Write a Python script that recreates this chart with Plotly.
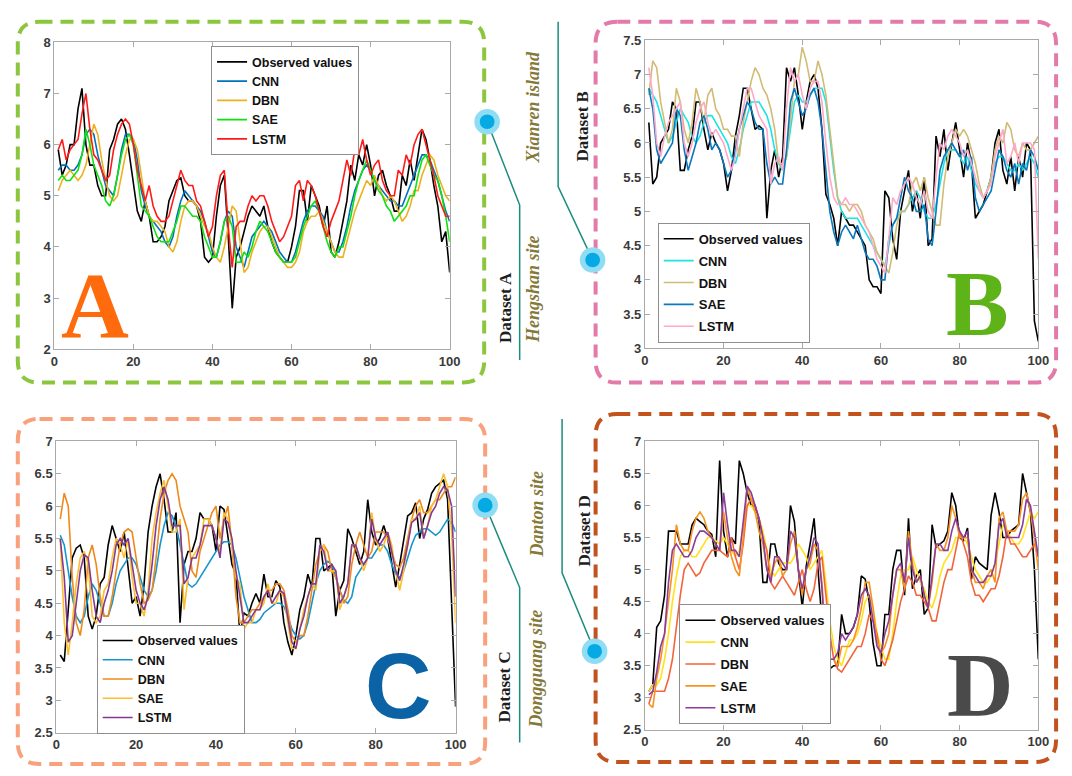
import plotly.graph_objects as go

W, H = 1072, 776
X = list(range(1, 101))
SERIES = ["Observed values", "CNN", "DBN", "SAE", "LSTM"]

# ---------------- Dataset A ----------------
A_obs = [5.9, 5.4, 5.6, 6.0, 6.0, 6.7, 7.1, 6.0, 5.6, 5.6,
         5.2, 5.0, 5.0, 5.9, 6.1, 6.4, 6.5, 6.3, 5.8, 5.2,
         4.7, 4.5, 4.9, 4.6, 4.1, 4.1, 4.2, 4.4, 4.9, 5.1,
         5.3, 5.35, 5.0, 4.9, 4.9, 4.8, 4.5, 3.8, 3.7, 3.8,
         4.6, 5.2, 5.4, 4.2, 2.8, 3.8, 4.0, 4.3, 4.6, 4.8,
         4.7, 4.6, 4.8, 4.4, 4.1, 3.9, 3.8, 3.7, 3.7, 4.0,
         4.4, 5.1, 5.1, 4.5, 5.2, 5.0, 4.8, 4.4, 4.8, 3.9,
         3.8, 4.1, 4.5, 4.9, 5.6, 5.3, 5.8, 5.6, 6.0, 5.6,
         5.0, 5.4, 5.5, 5.2, 5.0, 4.7, 4.7, 5.4, 5.2, 5.7,
         5.3, 5.8, 6.3, 6.1, 5.7, 5.2, 4.8, 4.1, 4.3, 3.5]
A_cnn = [5.5, 5.6, 5.6, 5.5, 5.5, 5.6, 5.8, 6.2, 6.3, 6.2,
         5.8, 5.5, 5.2, 5.1, 5.0, 5.4, 5.9, 6.2, 6.2, 6.1,
         5.7, 5.1, 4.8, 4.6, 4.5, 4.4, 4.3, 4.1, 4.0, 4.2,
         4.6, 4.9, 5.1, 5.0, 4.9, 4.8, 4.7, 4.5, 4.2, 3.9,
         3.8, 4.1, 4.5, 4.7, 4.6, 4.0, 3.8, 3.6, 3.9, 4.2,
         4.3, 4.4, 4.5, 4.4, 4.3, 4.1, 3.9, 3.8, 3.7, 3.7,
         3.9, 4.2, 4.5, 4.7, 4.8, 4.8, 4.7, 4.6, 4.3, 4.1,
         3.9, 3.9, 4.1, 4.4, 4.8, 5.1, 5.3, 5.5, 5.6, 5.5,
         5.3, 5.2, 5.1, 5.0, 4.9, 4.9, 4.8, 4.8, 5.0, 5.2,
         5.4, 5.6, 5.8, 5.8, 5.7, 5.5, 5.3, 5.0, 4.7, 4.5]
A_dbn = [5.1, 5.3, 5.4, 5.5, 5.4, 5.3, 5.4, 5.6, 6.0, 6.4,
         6.2, 5.7, 5.3, 5.0, 4.9, 5.0, 5.4, 5.8, 6.1, 6.1,
         5.9, 5.4, 4.9, 4.6, 4.5, 4.5, 4.4, 4.3, 4.0, 3.9,
         4.1, 4.5, 4.8, 4.9, 4.9, 4.8, 4.6, 4.4, 4.3, 4.0,
         3.8, 3.7, 4.0, 4.4, 4.8, 4.7, 4.1, 3.5, 3.6, 3.9,
         4.1, 4.3, 4.4, 4.4, 4.2, 4.0, 3.8, 3.7, 3.6, 3.6,
         3.7, 3.9, 4.3, 4.5, 4.6, 4.6, 4.7, 4.5, 4.3, 4.1,
         3.9, 3.8, 3.8, 4.1, 4.4, 4.7, 4.9, 5.1, 5.3, 5.2,
         5.4, 5.2, 5.0, 4.9, 5.0, 4.9, 4.7, 4.5, 4.6, 4.8,
         5.1, 5.1, 5.4, 5.6, 5.8, 5.7, 5.4, 5.2, 5.0, 4.9]
A_sae = [5.3, 5.4, 5.3, 5.3, 5.4, 5.5, 5.8, 6.3, 6.0, 5.6,
         5.4, 5.2, 4.9, 4.8, 5.0, 5.4, 5.8, 6.1, 6.2, 6.0,
         5.4, 4.8, 4.7, 4.6, 4.4, 4.2, 4.1, 4.1, 4.1, 4.3,
         4.5, 4.8, 4.8, 4.7, 4.6, 4.6, 4.5, 4.2, 4.0, 3.8,
         3.8, 4.1, 4.5, 4.6, 4.4, 3.7, 3.7, 3.9, 3.8, 4.0,
         4.3, 4.5, 4.4, 4.3, 4.1, 3.9, 3.8, 3.7, 3.7, 3.7,
         3.8, 4.1, 4.4, 4.6, 4.8, 4.9, 4.7, 4.4, 4.1, 3.9,
         3.8, 4.0, 4.0, 4.3, 4.6, 5.0, 5.3, 5.5, 5.7, 5.5,
         5.3, 5.1, 5.0, 4.8, 4.7, 4.5, 4.6, 4.7, 4.8, 5.0,
         5.0, 5.4, 5.7, 5.8, 5.6, 5.4, 5.3, 5.0, 4.6, 4.1]
A_lstm = [5.9, 6.1, 5.7, 5.9, 6.0, 6.1, 6.6, 7.0, 6.3, 5.8,
          5.7, 5.5, 5.3, 5.4, 5.9, 6.2, 6.4, 6.5, 6.4, 6.0,
          5.5, 5.2, 4.9, 5.2, 4.8, 4.6, 4.5, 4.5, 4.6, 4.9,
          5.2, 5.5, 5.3, 5.2, 5.2, 4.9, 4.8, 4.5, 4.2, 4.4,
          5.0, 5.4, 5.5, 4.4, 3.6, 4.4, 4.5, 4.5, 4.8, 5.0,
          4.9, 5.0, 5.0, 4.8, 4.5, 4.3, 4.1, 4.2, 4.4, 4.6,
          5.2, 5.3, 4.9, 5.3, 5.2, 5.0, 4.7, 4.4, 4.2, 4.5,
          4.7, 4.9, 5.3, 5.7, 5.4, 5.9, 5.8, 6.1, 5.7, 5.4,
          5.6, 5.7, 5.3, 5.1, 5.0, 5.0, 5.5, 5.4, 5.8, 5.6,
          6.0, 6.2, 6.3, 6.0, 5.7, 5.4, 5.0, 4.8, 4.6, 4.6]

# ---------------- Dataset B ----------------
B_obs = [6.3, 5.4, 5.5, 6.0, 6.1, 6.2, 6.6, 6.5, 5.6, 5.6,
         5.9, 6.1, 6.6, 6.6, 6.2, 5.9, 6.15, 6.0, 5.9, 5.7,
         5.3, 5.6, 6.1, 6.4, 6.8, 6.8, 6.5, 6.2, 6.25, 6.2,
         4.9, 5.6, 5.9, 5.5, 5.8, 7.1, 6.9, 7.1, 6.7, 6.2,
         6.6, 6.9, 7.0, 6.8, 6.2, 5.25, 5.1, 4.9, 4.5, 5.0,
         4.9, 4.8, 4.8, 4.7, 4.6, 4.5, 4.0, 3.9, 3.9, 3.8,
         5.3, 5.2, 4.6, 4.3, 5.0, 5.3, 5.6, 5.0, 5.3, 4.9,
         5.5, 4.5, 4.6, 6.1, 5.8, 6.2, 5.6, 6.0, 6.3, 5.9,
         5.5, 6.0, 5.7, 4.9, 5.0, 5.1, 5.3, 5.5, 6.0, 6.2,
         5.6, 5.4, 5.8, 5.3, 5.8, 5.5, 6.0, 5.9, 3.4, 3.1]
B_cnn = [6.8, 6.7, 6.6, 6.4, 6.2, 6.0, 6.1, 6.3, 6.5, 6.4,
         6.3, 6.1, 6.0, 6.1, 6.3, 6.4, 6.4, 6.3, 6.2, 6.1,
         6.0, 5.8, 5.7, 5.9, 6.2, 6.4, 6.6, 6.6, 6.6, 6.5,
         6.4, 6.2, 5.9, 5.7, 5.6, 5.8, 6.2, 6.6, 6.7, 6.6,
         6.6, 6.7, 6.8, 6.8, 6.8, 6.6, 6.1, 5.6, 5.2, 5.0,
         4.9, 4.9, 4.9, 4.9, 4.8, 4.7, 4.6, 4.5, 4.4, 4.3,
         4.2, 4.5, 4.8, 4.9, 5.0, 5.0, 5.1, 5.2, 5.3, 5.2,
         5.0, 4.9, 4.9, 5.1, 5.4, 5.7, 5.9, 5.9, 5.9, 5.8,
         5.7, 5.8, 5.6, 5.4, 5.3, 5.2, 5.3, 5.5, 5.7, 5.8,
         5.8, 5.7, 5.6, 5.6, 5.7, 5.6, 5.7, 5.8, 5.7, 5.5]
B_dbn = [6.7, 7.2, 7.1, 6.6, 6.3, 6.0, 6.2, 6.8, 6.6, 6.2,
         6.0, 6.3, 6.8, 6.6, 6.3, 6.7, 6.8, 6.5, 6.4, 6.2,
         6.2, 6.1, 6.1, 5.8, 6.3, 6.6, 6.9, 7.1, 7.0, 6.8,
         6.7, 6.5, 6.2, 5.7, 5.7, 5.8, 6.4, 6.9, 7.0, 7.4,
         7.2, 6.9, 6.9, 7.2, 7.0, 6.7, 6.2, 5.7, 5.2, 5.1,
         5.1, 5.0, 5.1, 5.1, 5.0, 4.8, 4.7, 4.6, 4.4, 4.3,
         4.2, 4.1, 4.4, 4.8, 5.0, 5.0, 5.1, 5.4, 5.5, 5.3,
         5.5, 5.2, 5.0, 4.8, 4.8, 5.4, 5.8, 6.0, 6.2, 6.1,
         6.2, 6.1, 5.9, 5.7, 5.4, 5.2, 5.3, 5.5, 5.9, 6.1,
         6.0, 6.3, 6.2, 5.9, 5.8, 6.0, 5.9, 5.9, 6.0, 6.1]
B_sae = [6.8, 6.5, 5.9, 5.7, 5.8, 5.9, 6.0, 6.5, 6.4, 5.9,
         5.6, 5.8, 6.0, 6.3, 6.4, 6.2, 5.9, 6.0, 5.9, 5.7,
         5.5, 5.6, 5.9, 6.2, 6.4, 6.6, 6.5, 6.3, 6.2, 6.2,
         5.7, 5.4, 5.5, 5.4, 5.4, 5.9, 6.6, 6.8, 6.6, 6.4,
         6.5, 6.7, 6.8, 6.6, 6.2, 5.6, 5.0, 4.7, 4.5, 4.7,
         4.8, 4.7, 4.6, 4.8, 4.6, 4.4, 4.3, 4.3, 4.2, 4.0,
         4.0, 4.6, 4.8, 4.9, 5.2, 5.5, 5.3, 5.2, 5.0, 5.0,
         5.1, 4.6, 4.5, 5.0, 5.6, 5.8, 5.9, 6.0, 5.9, 5.8,
         5.9, 5.6, 5.8, 5.2, 5.0, 5.1, 5.2, 5.3, 5.6, 5.9,
         5.8, 5.6, 5.5, 5.7, 5.4, 5.7, 5.6, 5.9, 5.8, 5.6]
B_lstm = [7.1, 6.7, 6.0, 5.8, 6.1, 6.3, 6.4, 6.5, 6.6, 6.0,
          5.8, 6.0, 6.3, 6.5, 6.6, 6.3, 6.1, 6.2, 6.1, 6.0,
          5.8, 5.6, 5.8, 6.2, 6.5, 6.8, 6.8, 6.6, 6.4, 6.3,
          6.2, 5.4, 5.7, 5.8, 5.6, 6.5, 7.1, 6.9, 7.0, 6.7,
          6.5, 6.8, 6.9, 6.9, 6.6, 6.0, 5.5, 5.2, 5.1, 5.1,
          5.2, 5.1, 5.1, 5.0, 4.9, 4.8, 4.7, 4.5, 4.3, 4.2,
          4.1, 4.6, 5.2, 5.1, 5.3, 5.4, 5.5, 5.4, 5.2, 5.1,
          5.3, 5.0, 4.9, 5.5, 6.0, 5.9, 6.1, 6.2, 6.1, 6.0,
          5.8, 5.9, 5.7, 5.5, 5.3, 5.2, 5.3, 5.4, 5.8, 6.0,
          6.2, 5.7, 5.8, 6.0, 5.7, 6.0, 6.0, 6.0, 5.9, 4.3]

# ---------------- Dataset C ----------------
C_obs = [3.7, 3.6, 4.4, 5.2, 5.35, 5.4, 5.2, 4.3, 4.1, 4.3,
         4.8, 4.9, 5.4, 5.7, 5.5, 5.3, 5.6, 5.0, 4.5, 4.6,
         4.3, 4.8, 5.6, 6.0, 6.3, 6.5, 6.1, 5.6, 5.6, 5.9,
         4.2, 5.1, 5.3, 5.3, 5.5, 5.9, 5.8, 5.8, 5.7, 5.3,
         6.0, 5.95, 5.5, 5.1, 4.95, 4.0, 4.35, 4.3, 4.5, 4.65,
         4.5, 4.95, 4.6, 4.6, 4.85, 4.75, 4.2, 3.9, 3.7, 4.0,
         4.4, 4.6, 4.95, 4.75, 5.5, 5.5, 5.0, 5.05, 5.1, 4.3,
         4.7, 4.85, 5.65, 5.5, 5.3, 5.1, 5.3, 6.1, 5.6, 5.4,
         5.5, 5.7, 5.5, 5.1, 4.75, 5.1, 5.45, 5.85, 5.9, 6.05,
         5.5, 5.8, 5.95, 6.2, 6.3, 6.35, 6.4, 6.1, 4.5, 2.9]
C_cnn = [5.55, 5.4, 5.0, 4.6, 4.3, 4.2, 4.3, 4.6, 4.8, 4.7,
         4.5, 4.3, 4.3, 4.5, 4.8, 5.0, 5.1, 5.2, 5.2, 5.1,
         4.9, 4.7, 4.6, 4.7, 5.0, 5.4, 5.7, 5.9, 5.85, 5.7,
         5.4, 5.1, 4.8, 4.75, 4.8, 4.9, 5.0, 5.1, 5.2, 5.3,
         5.4, 5.45, 5.45, 5.4, 5.2, 4.9, 4.6, 4.4, 4.2, 4.2,
         4.25, 4.35, 4.4, 4.45, 4.5, 4.5, 4.45, 4.3, 4.1, 4.0,
         3.95, 4.0, 4.2, 4.5, 4.8, 5.0, 5.1, 5.15, 5.1, 4.9,
         4.7, 4.55, 4.5, 4.6, 4.9, 5.0, 5.1, 5.2, 5.2, 5.3,
         5.4, 5.4, 5.3, 5.1, 4.95, 4.9, 5.0, 5.2, 5.4, 5.55,
         5.6, 5.65, 5.65, 5.6, 5.55, 5.6, 5.7, 5.8, 5.75, 5.6]
C_dbn = [5.8, 6.2, 6.0, 4.9, 4.2, 4.0, 4.4, 5.2, 5.4, 5.1,
         4.6, 4.3, 4.3, 4.6, 5.0, 5.4, 5.6, 5.65, 5.6, 5.2,
         4.8, 4.5, 4.55, 4.7, 5.2, 5.8, 6.2, 6.4, 6.5, 6.4,
         6.0, 5.8, 5.6, 5.0, 4.9, 5.3, 5.5, 5.7, 5.9, 6.0,
         5.5, 5.8, 6.0, 5.4, 4.6, 4.2, 4.2, 4.3, 4.4, 4.4,
         4.5, 4.6, 4.7, 4.7, 4.8, 4.8, 4.7, 4.4, 4.0, 3.9,
         4.0, 4.0, 4.3, 4.7, 5.1, 5.3, 5.4, 5.3, 5.0, 4.9,
         4.7, 4.5, 4.6, 5.1, 5.4, 5.6, 5.4, 5.2, 5.3, 5.6,
         5.6, 5.6, 5.5, 5.3, 5.1, 5.05, 5.2, 5.5, 5.8, 6.0,
         6.1, 5.9, 5.9, 6.0, 6.1, 6.1, 6.2, 6.3, 6.3, 6.45]
C_sae = [5.5, 4.2, 3.7, 4.2, 4.8, 5.2, 5.3, 5.1, 4.3, 4.2,
         4.3, 4.7, 4.8, 5.2, 5.5, 5.4, 5.2, 5.5, 4.9, 4.5,
         4.5, 4.3, 4.7, 5.5, 5.9, 6.2, 6.4, 6.0, 5.6, 5.6,
         5.8, 4.4, 4.9, 5.2, 5.3, 5.4, 5.8, 5.8, 5.7, 5.5,
         5.3, 5.9, 5.8, 5.4, 4.9, 4.8, 4.1, 4.2, 4.2, 4.4,
         4.4, 4.5, 4.8, 4.5, 4.5, 4.7, 4.6, 4.2, 3.8, 3.8,
         4.1, 4.4, 4.6, 4.8, 4.7, 5.3, 5.4, 5.0, 5.0, 5.0,
         4.4, 4.6, 4.8, 5.4, 5.4, 5.2, 5.0, 5.2, 5.9, 5.5,
         5.3, 5.4, 5.6, 5.4, 5.0, 4.7, 5.0, 5.4, 5.8, 5.8,
         6.0, 5.5, 5.7, 6.0, 6.1, 6.3, 6.5, 6.3, 5.6, 4.2]
C_lstm = [5.5, 4.9, 3.9, 4.0, 4.5, 5.0, 5.25, 5.2, 4.7, 4.3,
          4.2, 4.5, 4.7, 5.0, 5.4, 5.5, 5.4, 5.5, 5.1, 4.7,
          4.5, 4.4, 4.6, 5.1, 5.7, 6.1, 6.3, 6.1, 5.7, 5.7,
          5.7, 4.8, 4.9, 5.2, 5.2, 5.4, 5.7, 5.7, 5.7, 5.5,
          5.2, 5.8, 5.75, 5.5, 5.0, 4.6, 4.2, 4.2, 4.3, 4.4,
          4.4, 4.6, 4.7, 4.5, 4.6, 4.7, 4.65, 4.3, 3.9, 3.8,
          4.1, 4.3, 4.6, 4.8, 4.8, 5.4, 5.3, 5.0, 5.1, 5.0,
          4.5, 4.6, 4.8, 5.4, 5.4, 5.2, 5.1, 5.2, 5.8, 5.5,
          5.4, 5.5, 5.6, 5.3, 5.0, 4.85, 5.1, 5.4, 5.75, 5.8,
          5.9, 5.5, 5.7, 5.9, 6.0, 6.2, 6.3, 6.25, 6.0, 4.6]

# ---------------- Dataset D ----------------
D_obs = [3.1, 3.2, 4.1, 4.2, 4.6, 5.6, 5.6, 5.6, 5.4, 5.4,
         5.4, 5.7, 5.8, 5.75, 5.7, 5.6, 5.55, 5.2, 6.7, 5.6,
         5.2, 5.5, 5.4, 6.7, 6.5, 6.2, 6.0, 6.0, 5.75, 4.8,
         4.8, 5.4, 5.4, 5.1, 5.0, 5.0, 6.0, 5.75, 5.0, 4.4,
         5.05, 5.4, 5.8, 5.0, 4.2, 3.8, 3.45, 3.5, 3.5, 4.3,
         4.0, 4.0, 4.1, 4.3, 4.9, 4.85, 4.5, 3.85, 3.5, 3.5,
         4.3, 4.3, 5.0, 5.3, 5.3, 4.6, 5.8, 4.7, 4.9, 5.0,
         4.3, 4.4, 5.7, 5.35, 5.4, 5.45, 5.6, 6.2, 6.0, 5.5,
         5.45, 5.65, 4.85, 5.2, 5.1, 5.05, 5.0, 5.85, 6.2, 5.9,
         5.5, 5.5, 5.6, 5.65, 5.7, 6.5, 6.2, 5.9, 5.0, 3.6]
D_cnn = [3.1, 3.2, 3.2, 3.3, 3.6, 4.0, 4.5, 4.9, 5.2, 5.3,
         5.3, 5.2, 5.2, 5.3, 5.4, 5.5, 5.5, 5.45, 5.4, 5.5,
         5.4, 5.3, 5.2, 5.3, 5.7, 6.0, 6.0, 5.9, 5.8, 5.6,
         5.3, 5.0, 4.9, 5.0, 5.1, 5.1, 5.1, 5.2, 5.4, 5.3,
         5.2, 5.0, 5.1, 5.2, 5.3, 4.8, 4.2, 3.8, 3.6, 3.5,
         3.7, 3.9, 3.9, 4.0, 4.2, 4.5, 4.6, 4.4, 4.0, 3.8,
         3.6, 3.6, 4.0, 4.5, 4.9, 5.0, 5.0, 5.2, 5.0, 4.8,
         4.7, 4.5, 4.4, 4.6, 4.9, 5.1, 5.2, 5.3, 5.5, 5.5,
         5.5, 5.4, 5.2, 5.0, 4.9, 4.8, 4.8, 4.9, 5.1, 5.4,
         5.7, 5.6, 5.5, 5.4, 5.4, 5.5, 5.7, 5.9, 5.8, 5.9]
D_dbn = [2.9, 3.1, 3.1, 3.1, 3.1, 3.3, 3.6, 4.1, 4.6, 5.0,
         5.1, 5.0, 4.9, 4.95, 5.1, 5.2, 5.3, 5.3, 5.3, 5.25,
         5.2, 5.5, 5.2, 5.0, 5.4, 6.0, 6.1, 6.0, 5.8, 5.5,
         5.3, 4.8, 4.7, 4.8, 4.9, 4.8, 4.7, 4.6, 4.8, 5.0,
         4.7, 4.5, 4.7, 5.1, 5.2, 4.6, 4.0, 3.6, 3.45, 3.4,
         3.5, 3.6, 3.7, 3.8, 3.8, 4.0, 4.3, 4.2, 4.0, 3.6,
         3.5, 3.7, 3.9, 4.2, 4.5, 4.7, 4.9, 4.8, 4.6, 4.6,
         4.5, 4.4, 4.2, 4.2, 4.5, 4.8, 5.0, 5.0, 5.3, 5.6,
         5.4, 5.2, 4.8, 4.6, 4.6, 4.5, 4.6, 4.7, 4.7, 4.9,
         5.2, 5.6, 5.4, 5.4, 5.3, 5.2, 5.2, 5.3, 5.4, 5.2]
D_sae = [2.9, 2.85, 3.3, 3.6, 4.0, 4.5, 5.0, 5.7, 5.4, 5.3,
         5.3, 5.6, 5.8, 5.9, 5.8, 5.6, 5.5, 5.4, 5.3, 5.9,
         5.5, 5.2, 5.0, 4.9, 5.5, 6.3, 6.1, 5.9, 5.6, 5.4,
         5.0, 4.9, 5.1, 5.2, 4.9, 5.0, 5.4, 5.6, 5.0, 4.6,
         5.0, 5.1, 5.4, 5.3, 4.8, 3.9, 3.6, 3.6, 3.5, 3.8,
         3.8, 3.8, 3.9, 4.1, 4.4, 4.8, 4.8, 4.4, 3.9, 3.7,
         3.8, 4.0, 4.6, 5.0, 5.0, 4.7, 5.6, 5.1, 4.8, 4.9,
         4.6, 4.4, 4.8, 5.4, 5.3, 5.3, 5.5, 6.0, 5.8, 5.5,
         5.5, 5.5, 5.0, 4.8, 4.8, 4.7, 4.9, 5.0, 4.8, 5.8,
         5.9, 5.6, 5.6, 5.6, 5.7, 6.1, 6.2, 5.9, 5.5, 5.0]
D_lstm = [3.05, 3.1, 3.4, 3.8, 4.0, 4.8, 5.3, 5.4, 5.3, 5.2,
          5.2, 5.3, 5.5, 5.6, 5.6, 5.55, 5.5, 5.4, 5.3, 6.2,
          5.7, 5.3, 5.3, 5.2, 5.8, 6.3, 6.2, 6.0, 5.8, 5.5,
          5.0, 4.8, 5.2, 5.2, 5.1, 5.0, 5.6, 5.5, 5.0, 4.7,
          5.0, 5.2, 5.5, 5.4, 4.7, 3.8, 3.6, 3.6, 3.7, 4.0,
          3.9, 4.0, 4.1, 4.3, 4.6, 4.7, 4.6, 4.2, 3.8, 3.7,
          4.0, 4.2, 4.6, 5.0, 5.1, 4.8, 5.5, 5.0, 4.8, 4.9,
          4.6, 4.4, 4.9, 5.4, 5.4, 5.3, 5.3, 5.6, 5.8, 5.6,
          5.5, 5.6, 5.0, 4.9, 4.8, 4.8, 4.9, 4.9, 5.1, 5.7,
          5.8, 5.5, 5.5, 5.5, 5.5, 5.7, 6.1, 6.0, 5.6, 5.2]

Y_RANGES = {"A": [2, 8], "B": [3, 7.5], "C": [2.5, 7], "D": [2.5, 7]}
Y_DTICK = {"A": 1, "B": 0.5, "C": 0.5, "D": 0.5}
X_TICKS = [0, 20, 40, 60, 80, 100]

for arr in [A_obs, A_cnn, A_dbn, A_sae, A_lstm, B_obs, B_cnn, B_dbn, B_sae, B_lstm,
            C_obs, C_cnn, C_dbn, C_sae, C_lstm, D_obs, D_cnn, D_dbn, D_sae, D_lstm]:
    assert len(arr) == len(X), len(arr)


def px(v):
    return v / W


def py(v):
    return 1 - v / H


panels = [
    dict(name="A", ax="", data=[A_obs, A_cnn, A_dbn, A_sae, A_lstm],
         colors=["#000000", "#0072BD", "#EDB120", "#10E010", "#FF1A1A"],
         box=(51, 36, 452, 349), legend="legend", lpos=(210, 40), lfont=12.5, gap=0),
    dict(name="B", ax="2", data=[B_obs, B_cnn, B_dbn, B_sae, B_lstm],
         colors=["#000000", "#1EE3E3", "#D2BB74", "#0A78BE", "#FFA8C9"],
         box=(650, 34, 1049, 348), legend="legend2", lpos=(663, 220), lfont=13, gap=2),
    dict(name="C", ax="3", data=[C_obs, C_cnn, C_dbn, C_sae, C_lstm],
         colors=["#000000", "#1496CF", "#EE8A1C", "#FDBE2A", "#833A95"],
         box=(53, 443, 458, 740), legend="legend3", lpos=(94, 630), lfont=12.5, gap=0),
    dict(name="D", ax="4", data=[D_obs, D_cnn, D_dbn, D_sae, D_lstm],
         colors=["#000000", "#FFE11C", "#F2643A", "#F7921E", "#8A3C9C"],
         box=(650, 443, 1049, 737), legend="legend4", lpos=(685, 609), lfont=13, gap=2),
]

fig = go.Figure()
layout = dict(width=W, height=H, autosize=False, margin=dict(l=0, r=0, t=0, b=0),
              paper_bgcolor="white", plot_bgcolor="white", showlegend=True)

axis_common = dict(showgrid=False, zeroline=False, showline=True, linecolor="#A9A9A9",
                   linewidth=1, mirror="ticks", ticks="inside", ticklen=5,
                   tickcolor="#A9A9A9",
                   tickfont=dict(family="Liberation Sans", size=13, color="#3A3A3A",
                                 weight="bold"))

for p in panels:
    x0, y0, x1, y1 = p["box"]
    xa = "x" + p["ax"]
    ya = "y" + p["ax"]
    for i, (name, ys, col) in enumerate(zip(SERIES, p["data"], p["colors"])):
        fig.add_trace(go.Scatter(x=X, y=ys, mode="lines", name=name,
                                 line=dict(color=col, width=1.6),
                                 xaxis=xa, yaxis=ya, legend=p["legend"],
                                 legendgroup=p["name"] + str(i)))
    layout["xaxis" + p["ax"]] = dict(axis_common, domain=[px(x0), px(x1)], range=[0, 100],
                                     tickvals=X_TICKS, anchor=ya)
    layout["yaxis" + p["ax"]] = dict(axis_common, domain=[py(y1), py(y0)],
                                     range=Y_RANGES[p["name"]], dtick=Y_DTICK[p["name"]],
                                     tick0=0, anchor=xa)
    lx, ly = p["lpos"]
    layout[p["legend"]] = dict(x=px(lx), y=py(ly), xanchor="left", yanchor="top",
                               bgcolor="white", bordercolor="#8E8E8E", borderwidth=1,
                               font=dict(family="Liberation Sans", size=p["lfont"],
                                         color="#111111", weight="bold"),
                               itemwidth=30, tracegroupgap=p["gap"])

fig.update_layout(**layout)


def rrect(x0, y0, x1, y1, r):
    pts = [("M", [(x0 + r, y0)]), ("L", [(x1 - r, y0)]), ("Q", [(x1, y0), (x1, y0 + r)]),
           ("L", [(x1, y1 - r)]), ("Q", [(x1, y1), (x1 - r, y1)]), ("L", [(x0 + r, y1)]),
           ("Q", [(x0, y1), (x0, y1 - r)]), ("L", [(x0, y0 + r)]),
           ("Q", [(x0, y0), (x0 + r, y0)])]
    s = ""
    for cmd, ps in pts:
        s += cmd + " " + " ".join(f"{px(a):.5f},{py(b):.5f}" for a, b in ps) + " "
    return s + "Z"


shapes = []
borders = [((14, 15, 487, 383), "#8CC63F"), ((600, 15, 1067, 383), "#E27BAA"),
           ((14, 420, 488, 772), "#F9A07D"), ((600, 415, 1067, 770), "#C2521E")]
for (bx0, by0, bx1, by1), col in borders:
    shapes.append(dict(type="path", xref="paper", yref="paper",
                       path=rrect(bx0, by0, bx1, by1, 22),
                       line=dict(color=col, width=4, dash="13px,8px")))

teal = "#1B8C7D"
lines = [[(490, 117), (523, 202), (523, 360)],
         [(562, 15), (562, 183), (597, 258)],
         [(488, 508), (523, 592), (523, 750)],
         [(566, 420), (566, 577), (599, 657)]]
for seg in lines:
    path = "M " + " L ".join(f"{px(a):.5f},{py(b):.5f}" for a, b in seg)
    shapes.append(dict(type="path", xref="paper", yref="paper", path=path,
                       line=dict(color=teal, width=1.5)))

for cx, cy in [(490, 117), (597, 258), (488, 508), (599, 657)]:
    for r, col in [(13, "#8FDDF5"), (7.5, "#05A9E3")]:
        shapes.append(dict(type="circle", xref="paper", yref="paper",
                           x0=px(cx - r), x1=px(cx + r), y0=py(cy + r), y1=py(cy - r),
                           fillcolor=col, line=dict(width=0)))

fig.update_layout(shapes=shapes)

annotations = []
letters = [("A", 92, 304, "#FF6A0D", "Liberation Serif", 94),
           ("B", 987, 302, "#5DB318", "Liberation Serif", 94),
           ("C", 400, 692, "#0B63A6", "Liberation Sans", 92),
           ("D", 990, 691, "#4A4A4A", "Liberation Serif", 92)]
for t, cx, cy, col, fam, sz in letters:
    annotations.append(dict(text=t, x=px(cx), y=py(cy), xref="paper", yref="paper",
                            showarrow=False, xanchor="center", yanchor="middle",
                            font=dict(family=fam, size=sz, color=col, weight="bold")))

side = [("Dataset A", 508, 306, "#1E1E1E", False, 17),
        ("Hengshan site", 537, 287, "#85793A", True, 18),
        ("Xianren island", 537, 102, "#85793A", True, 18),
        ("Dataset B", 587, 122, "#1E1E1E", False, 17),
        ("Dataset C", 508, 693, "#1E1E1E", False, 17),
        ("Dongguang site", 539, 675, "#85793A", True, 18),
        ("Danton site", 541, 517, "#85793A", True, 18),
        ("Dataset D", 589, 534, "#1E1E1E", False, 17)]
for t, cx, cy, col, ital, sz in side:
    annotations.append(dict(text=f"<i>{t}</i>" if ital else t, x=px(cx), y=py(cy),
                            xref="paper", yref="paper", showarrow=False, textangle=-90,
                            xanchor="center", yanchor="middle",
                            font=dict(family="Liberation Serif", size=sz, color=col,
                                      weight="bold")))

fig.update_layout(annotations=annotations)

fig.write_html("out.html", config={"displayModeBar": False},
               post_script="document.body.style.margin='0px';document.body.style.overflow='hidden';")
